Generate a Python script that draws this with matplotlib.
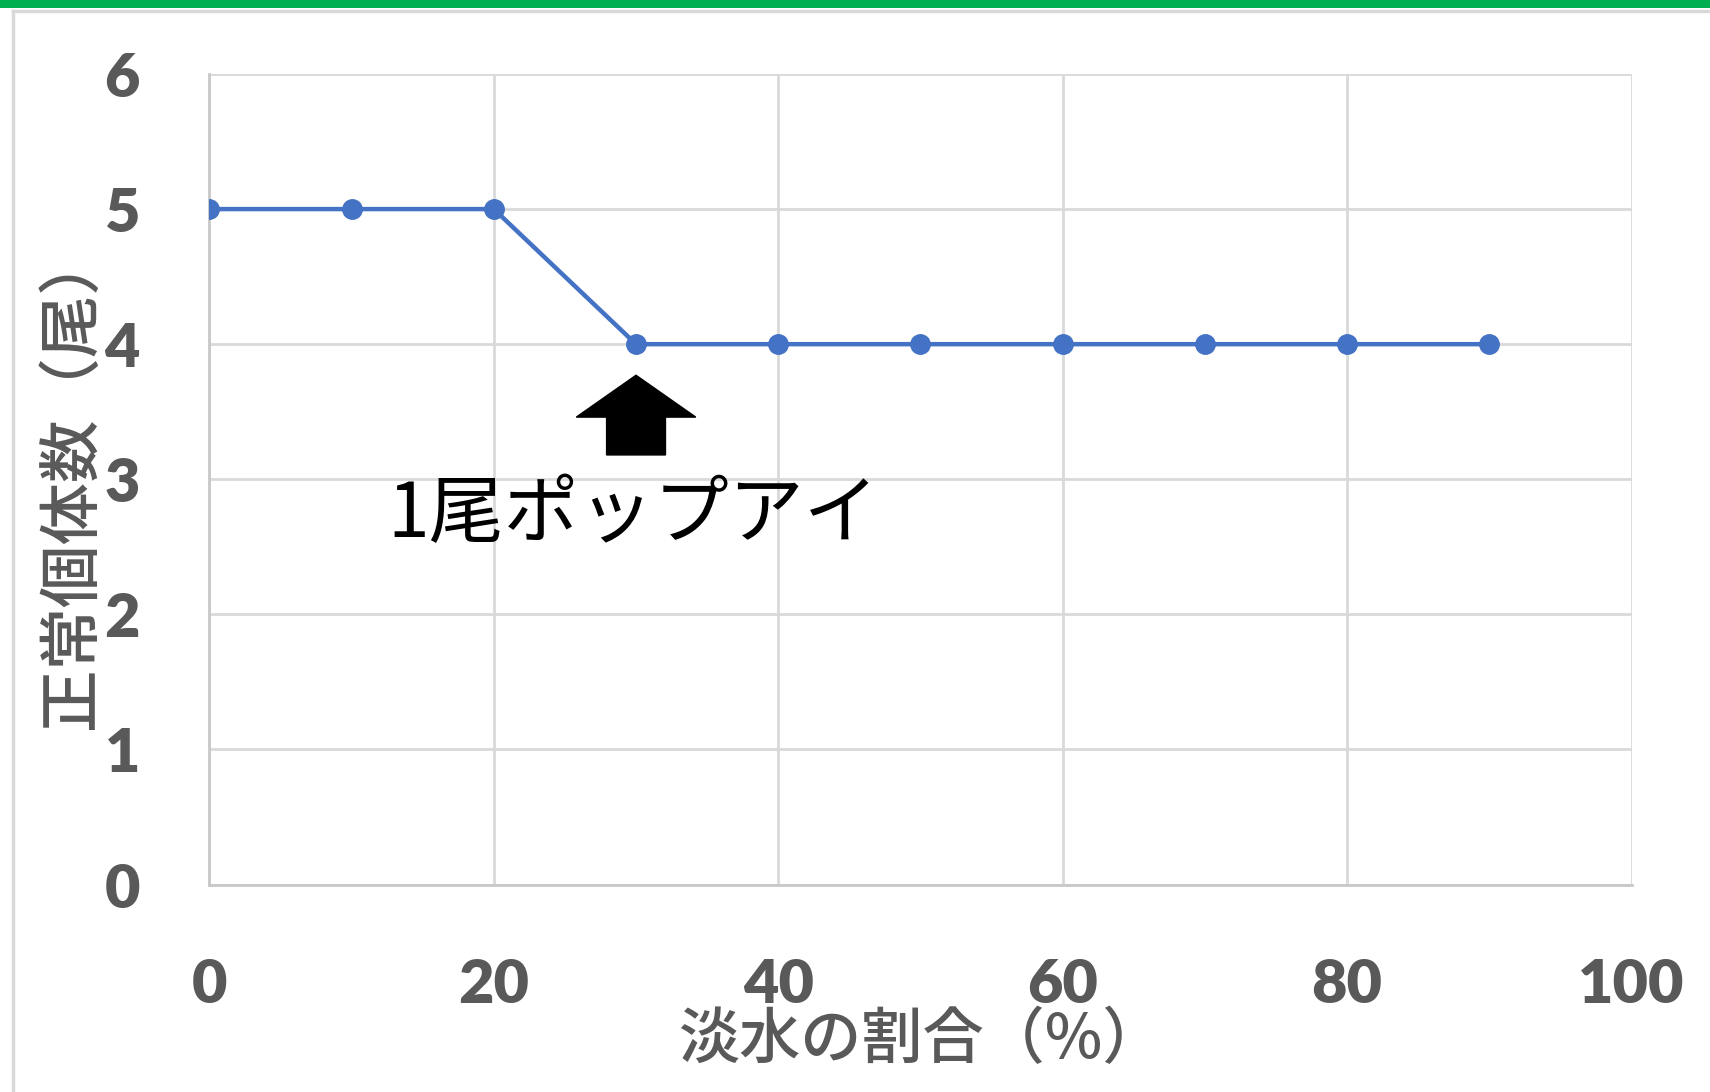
import matplotlib
matplotlib.use("Agg")
import matplotlib.pyplot as plt
from matplotlib.lines import Line2D
from matplotlib.patches import Rectangle

# data
freshwater_pct = [0, 10, 20, 30, 40, 50, 60, 70, 80, 90]
normal_count = [5, 5, 5, 4, 4, 4, 4, 4, 4, 4]
x_ticks = [0, 20, 40, 60, 80, 100]
y_ticks = [0, 1, 2, 3, 4, 5, 6]
x_label = "淡水の割合（%）"
y_label = "正常個体数（尾）"
note_text = "1尾ポップアイ"
note_x = 30

GRAY = "#595959"
BLUE = "#4472C4"
GRID = "#D9D9D9"

plt.rcParams['font.family'] = ['Noto Sans CJK JP', 'DejaVu Sans']

fig = plt.figure(figsize=(17.1, 10.92), dpi=100)
fig.patch.set_facecolor("white")

# green header bar and outer frame
fig.add_artist(Rectangle((0, 1 - 8 / 1092), 1, 8 / 1092, transform=fig.transFigure,
                         facecolor="#00B050", edgecolor="none"))
fig.add_artist(Line2D([12.5 / 1710, 1], [1 - 11 / 1092, 1 - 11 / 1092],
                      transform=fig.transFigure, color=GRID, lw=2.5))
fig.add_artist(Line2D([12.5 / 1710, 12.5 / 1710], [0, 1 - 11 / 1092],
                      transform=fig.transFigure, color=GRID, lw=2.5))

ax = fig.add_axes([209.4 / 1710, (1092 - 884.5) / 1092,
                   (1631.5 - 209.4) / 1710, (884.5 - 74) / 1092])

ax.plot(freshwater_pct, normal_count, color=BLUE, lw=3.2, marker="o",
        markersize=14, markerfacecolor=BLUE, markeredgecolor=BLUE, zorder=3)

ax.set_xlim(0, 100)
ax.set_ylim(0, 6)
ax.set_xticks(x_ticks)
ax.set_yticks(y_ticks)
ax.grid(True, color=GRID, lw=2.0)
ax.set_axisbelow(True)
for s in ["top", "right"]:
    ax.spines[s].set_visible(False)
for s in ["left", "bottom"]:
    ax.spines[s].set_color("#C8C8C8")
    ax.spines[s].set_linewidth(2.0)
ax.tick_params(length=0)
ax.tick_params(axis="y", pad=50)
ax.tick_params(axis="x", pad=52)
for lab in ax.get_xticklabels() + ax.get_yticklabels():
    lab.set_fontfamily("Lato")
    lab.set_fontweight("heavy")
    lab.set_fontsize(44)
    lab.set_color(GRAY)

ax.set_xlabel(x_label, fontsize=44, color=GRAY, fontweight="medium")
ax.set_ylabel(y_label, fontsize=45, color=GRAY, fontweight="medium")
ax.xaxis.label.set_va("center")
ax.yaxis.label.set_va("center")
ax.xaxis.set_label_coords(0.50, -0.193)
ax.yaxis.set_label_coords(-0.0965, 0.50)

# annotation arrow and text
ax.arrow(note_x, 3.18, 0, 0.59, width=4.14, head_width=8.4, head_length=0.31,
         length_includes_head=True, color="black", zorder=4)
ax.text(12.5, 2.73, note_text, fontsize=54, color="black", ha="left", va="center")

fig.savefig("out.png", dpi=100, facecolor="white")
